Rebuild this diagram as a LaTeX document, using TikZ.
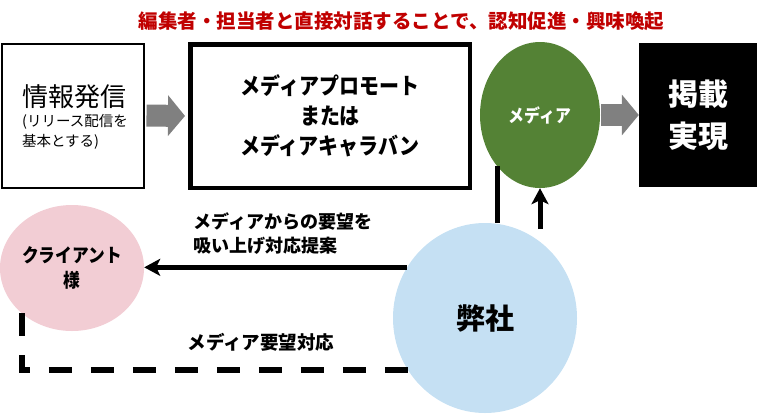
\documentclass[tikz,border=0pt]{standalone}
\usepackage{fontspec}
\setmainfont{Noto Sans CJK JP}
\newfontfamily\condfont[FakeStretch=0.88]{Noto Sans CJK JP}
\usetikzlibrary{arrows.meta,shapes.geometric}
\definecolor{titlered}{RGB}{192,0,0}
\definecolor{mediagreen}{RGB}{84,130,53}
\definecolor{clientpink}{RGB}{242,205,212}
\definecolor{companyblue}{RGB}{197,224,243}
\definecolor{arrowgray}{RGB}{128,128,128}
\begin{document}
\begin{tikzpicture}[x=1pt,y=-1pt,
  blockarrow/.style={arrowgray, line width=22pt, -{Triangle[length=17pt,width=40pt]}},
  flow/.style={line width=5pt, -{Stealth[length=16pt,width=17pt,inset=4pt]}},
  bubble/.style={ellipse, inner sep=0pt, align=center, font=\bfseries}]
\useasboundingbox (0,0) rectangle (757,413);
\node[font=\bfseries\fontsize{19.5}{24}\selectfont, text=titlered] (title) at (401.5,21){編集者・担当者と直接対話することで、認知促進・興味喚起};
\node[draw, line width=2pt, minimum width=142pt, minimum height=144pt] (info) at (72.5,115.5){};
\node[align=left, font=\fontsize{14.5}{20}\selectfont] (infotext) at (75,117){{\fontsize{26}{30}\selectfont 情報発信}\\(リリース配信を\\基本とする)};
\node[draw, line width=4.5pt, minimum width=279.5pt, minimum height=143.5pt, align=center, font=\condfont\bfseries\fontsize{22.7}{30}\selectfont] (promo) at (330,116){メディアプロモート\\または\\メディアキャラバン};
\node[bubble, fill=mediagreen, text=white, minimum width=120pt, minimum height=146pt, font=\condfont\bfseries\fontsize{18}{20}\selectfont] (media) at (540,115){メディア};
\node[fill=black, text=white, minimum width=118pt, minimum height=144pt, align=center, font=\bfseries\fontsize{30}{42}\selectfont] (pub) at (698,115){掲載\\実現};
\node[bubble, fill=clientpink, minimum width=144pt, minimum height=126pt, font=\condfont\bfseries\fontsize{19}{25}\selectfont] (client) at (72,268){クライアント\\様};
\node[bubble, fill=companyblue, minimum width=184pt, minimum height=190pt, font=\bfseries\fontsize{29}{34}\selectfont] (company) at (485,318){弊社};
\draw[blockarrow, shorten <=2pt, shorten >=3pt](info.east) -- (promo.west);
\draw[blockarrow, shorten <=1pt](media.east) -- (pub.west);
\draw[line width=5pt](media.230) -- (media.230 |- company.north);
\coordinate (upfoot) at (540,229);
\draw[flow](upfoot) -- (media.south);
\draw[flow](company.147) -- (company.147 -| client.east);
\draw[line width=6pt, dash pattern=on 23pt off 19pt](client.222) |- (company.214);
\node[anchor=west, align=left, font=\bfseries\fontsize{18}{24}\selectfont] (asklabel) at (190,234){メディアからの要望を\\吸い上げ対応提案};
\node[font=\bfseries\fontsize{18.5}{24}\selectfont] (replylabel) at (261,342){メディア要望対応};
\end{tikzpicture}
\end{document}
